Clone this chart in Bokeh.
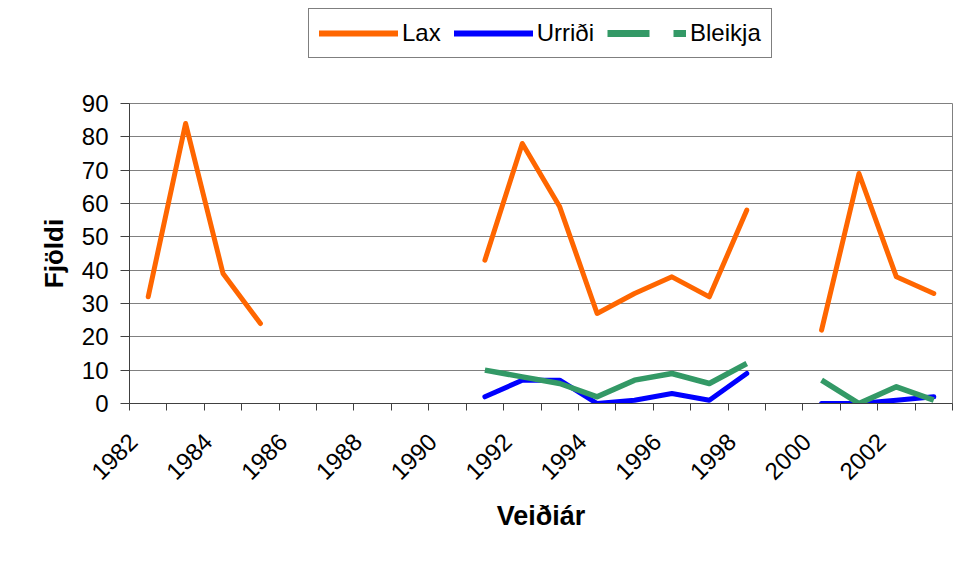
import math
from bokeh.plotting import figure
from bokeh.layouts import column
from bokeh.models import Range1d, FixedTicker, Legend, LegendItem, ColumnDataSource
from bokeh.embed import file_html
from bokeh.resources import INLINE

nan = float("nan")
years = list(range(1982, 2004))
lax = [32, 84, 39, 24, nan, nan, nan, nan, nan, 43, 78, 59, 27, 33, 38, 32, 58, nan, 22, 69, 38, 33]
urridi = [nan, nan, nan, nan, nan, nan, nan, nan, nan, 2, 7, 7, 0, 1, 3, 1, 9, nan, 0, 0, 1, 2]
bleikja = [nan, nan, nan, nan, nan, nan, nan, nan, nan, 10, 8, 6, 2, 7, 9, 6, 12, nan, 7, 0, 5, 1]
series_names = ["Lax", "Urriði", "Bleikja"]
y_ticks = list(range(0, 91, 10))

idx = list(range(len(years)))
src = ColumnDataSource(dict(x=idx, lax=lax, urridi=urridi, bleikja=bleikja))

FONT = "Liberation Sans"
LABEL_SHIFT = 0.4  # rotated labels end a bit left of the category centre
ORANGE, BLUE, GREEN = "#FF6600", "#0000FF", "#339966"

# ---------------- legend strip (above the chart) ----------------
lg = figure(width=955, height=85, output_backend="svg", toolbar_location=None,
            x_range=Range1d(0, 1), y_range=Range1d(0, 1),
            x_axis_type=None, y_axis_type=None,
            min_border_left=0, min_border_right=0, min_border_top=0, min_border_bottom=0)
lg.outline_line_color = None
lg.background_fill_color = "white"
lg.border_fill_color = "white"
empty = ColumnDataSource(dict(x=[nan], y=[nan]))
k_lax = lg.line("x", "y", source=empty, line_color=ORANGE, line_width=6, line_cap="round")
k_urr = lg.line("x", "y", source=empty, line_color=BLUE, line_width=6, line_cap="round")
k_ble = lg.line("x", "y", source=empty, line_color=GREEN, line_width=7,
                line_dash="42 24", line_cap="butt")

legend = Legend(items=[LegendItem(label=series_names[0], renderers=[k_lax]),
                       LegendItem(label=series_names[1], renderers=[k_urr]),
                       LegendItem(label=series_names[2], renderers=[k_ble])],
                orientation="horizontal", location=(179, 27))
legend.label_text_font = FONT
legend.label_text_font_size = "24px"
legend.label_text_color = "black"
legend.glyph_width = 79
legend.glyph_height = 28
legend.label_height = 28
legend.label_standoff = 4
legend.spacing = 13
legend.padding = 10
legend.margin = 0
legend.border_line_color = "black"
legend.border_line_width = 1
legend.background_fill_color = "white"
legend.background_fill_alpha = 1
lg.add_layout(legend, "center")

# ---------------- main chart ----------------
p = figure(width=955, height=470, output_backend="svg", toolbar_location=None,
           x_range=Range1d(-0.5, len(years) - 0.5), y_range=Range1d(0, 90),
           min_border_left=129, min_border_right=3, min_border_top=18, min_border_bottom=152)
p.background_fill_color = "white"
p.border_fill_color = "white"
p.outline_line_color = "#808080"
p.outline_line_width = 1

p.line("x", "lax", source=src, line_color=ORANGE, line_width=5,
       line_cap="round", line_join="round")
p.line("x", "urridi", source=src, line_color=BLUE, line_width=5,
       line_cap="round", line_join="round")
p.line("x", "bleikja", source=src, line_color=GREEN, line_width=5.5,
       line_cap="butt", line_join="round")

label_pos = {i - LABEL_SHIFT: str(years[i]) for i in idx if i % 2 == 0}
p.xaxis.ticker = FixedTicker(ticks=list(label_pos.keys()),
                             minor_ticks=[i - 0.5 for i in range(len(years) + 1)])
p.xaxis.major_label_overrides = label_pos
p.xaxis.major_label_orientation = math.pi / 4
p.xaxis.major_tick_out = 0
p.xaxis.major_tick_in = 0
p.xaxis.minor_tick_out = 7
p.xaxis.minor_tick_in = 0
p.xaxis.minor_tick_line_color = "#404040"
p.xaxis.axis_line_color = "#404040"
p.xaxis.major_label_standoff = 27
p.xaxis.axis_label = "Veiðiár"
p.xaxis.axis_label_standoff = 11

p.yaxis.ticker = FixedTicker(ticks=y_ticks)
p.yaxis.major_tick_out = 9
p.yaxis.major_tick_in = 0
p.yaxis.minor_tick_line_color = None
p.yaxis.major_tick_line_color = "#404040"
p.yaxis.axis_line_color = "#404040"
p.yaxis.major_label_standoff = 12
p.yaxis.axis_label = "Fjöldi"
p.yaxis.axis_label_standoff = 10

for ax in (p.xaxis, p.yaxis):
    ax.major_label_text_font = FONT
    ax.major_label_text_font_size = "24px"
    ax.major_label_text_color = "black"
    ax.axis_label_text_font = FONT
    ax.axis_label_text_font_style = "bold"
    ax.axis_label_text_color = "black"
p.xaxis.axis_label_text_font_size = "27px"
p.yaxis.axis_label_text_font_size = "26px"

p.xgrid.visible = False
p.ygrid.ticker = FixedTicker(ticks=y_ticks)
p.ygrid.grid_line_color = "#808080"
p.ygrid.grid_line_width = 1

layout = column(lg, p, spacing=0)
open("out.html", "w").write(file_html(layout, INLINE))
